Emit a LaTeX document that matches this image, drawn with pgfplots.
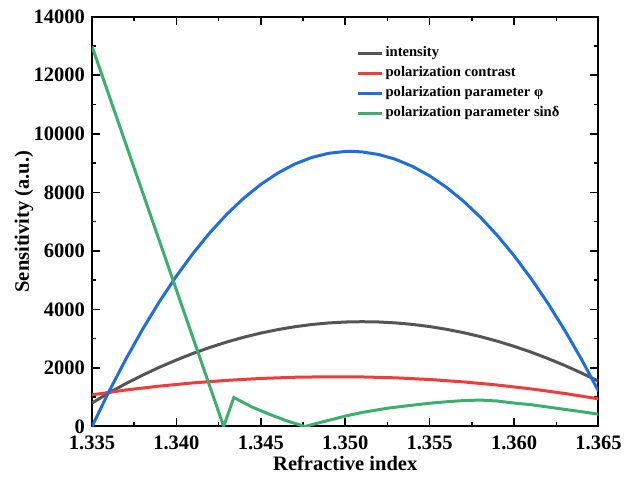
\documentclass[border=0pt]{standalone}
\usepackage{pgfplots}
\pgfplotsset{compat=1.18}
\usepackage{fontspec}
\setmainfont{Liberation Serif}
\definecolor{cgray}{RGB}{85,85,85}
\definecolor{cred}{RGB}{240,60,60}
\definecolor{cblue}{RGB}{30,110,225}
\definecolor{cgreen}{RGB}{60,175,110}
\begin{document}
\begin{tikzpicture}
\useasboundingbox (-92pt,-54.5pt) rectangle (533pt,426.5pt);
\begin{axis}[
  at={(0pt,0pt)}, anchor=south west,
  scale only axis, width=506.5pt, height=409.8pt,
  xmin=1.335, xmax=1.365, ymin=0, ymax=14000,
  scaled x ticks=false, scaled y ticks=false,
  xtick={1.335,1.34,1.345,1.35,1.355,1.36,1.365},
  xticklabels={1.335,1.340,1.345,1.350,1.355,1.360,1.365},
  minor x tick num=1,
  ytick={0,2000,4000,6000,8000,10000,12000,14000},
  yticklabels={0,2000,4000,6000,8000,10000,12000,14000},
  minor y tick num=1,
  tick align=inside,
  major tick length=8pt, minor tick length=4.5pt,
  every tick/.style={black, line width=1.5pt},
  axis line style={line width=2pt},
  ticklabel style={font=\fontsize{20.5}{20.5}\selectfont\bfseries},
  xticklabel style={yshift=-5.8pt},
  yticklabel style={xshift=-3.5pt},
  label style={font=\fontsize{20.5}{20.5}\selectfont\bfseries},
  xlabel={Refractive index},
  ylabel={Sensitivity (a.u.)},
  xlabel style={at={([yshift=-44.5pt]axis description cs:0.5,0)}, anchor=base},
  ylabel style={at={([xshift=-63pt]axis description cs:0,0.5)}, anchor=base},
  legend cell align=left,
  legend style={draw=none, fill=none, inner sep=0pt,
    at={(axis description cs:0.522,0.932)}, anchor=north west,
    font=\fontsize{14.6}{14.6}\selectfont\bfseries,
    row sep=2.5pt,
    nodes={inner sep=1.5pt, text height=10.5pt, text depth=4pt}},
  legend image code/.code={\draw[#1, line width=3.5pt] (0pt,0pt) -- (24pt,0pt);},
]
\addplot[cgray, line width=3pt] coordinates {
(1.335,800) (1.336,1150) (1.337,1463) (1.338,1755) (1.339,2025) (1.340,2273)
(1.341,2500) (1.342,2705) (1.343,2889) (1.344,3051) (1.345,3191) (1.346,3310)
(1.347,3407) (1.348,3483) (1.349,3537) (1.350,3569) (1.351,3580) (1.352,3570)
(1.353,3538) (1.354,3487) (1.355,3414) (1.356,3320) (1.357,3206) (1.358,3071)
(1.359,2916) (1.360,2739) (1.361,2542) (1.362,2324) (1.363,2085) (1.364,1826)
(1.365,1546)};
\addlegendentry{intensity}
\addplot[cred, line width=3pt] coordinates {
(1.335,1080) (1.337,1247) (1.339,1380) (1.341,1490) (1.343,1577) (1.345,1641)
(1.347,1682) (1.349,1699) (1.351,1693) (1.353,1662) (1.355,1605) (1.357,1523)
(1.359,1417) (1.361,1285) (1.363,1128) (1.365,945)};
\addlegendentry{polarization contrast}
\addplot[cblue, line width=3pt] coordinates {
(1.335,0) (1.336,1188) (1.337,2296) (1.338,3324) (1.339,4272) (1.340,5139)
(1.341,5927) (1.342,6633) (1.343,7260) (1.344,7806) (1.345,8272) (1.346,8657)
(1.347,8963) (1.348,9188) (1.349,9332) (1.350,9396) (1.3503,9400) (1.351,9381)
(1.352,9290) (1.353,9124) (1.354,8881) (1.355,8563) (1.356,8169) (1.357,7699)
(1.358,7153) (1.359,6531) (1.360,5834) (1.361,5061) (1.362,4212) (1.363,3287)
(1.364,2287) (1.365,1210)};
\addlegendentry{polarization parameter φ}
\addplot[cgreen, line width=3pt] coordinates {
(1.335,12990) (1.3428,0) (1.3434,990) (1.3445,660) (1.3455,420) (1.3465,200)
(1.3476,0) (1.3485,133) (1.3490,207) (1.3500,355) (1.3510,480) (1.3525,625)
(1.3540,730) (1.3550,795) (1.3560,845) (1.3570,885) (1.3580,903) (1.3590,870)
(1.3600,800) (1.3610,745) (1.3625,625) (1.3640,505) (1.3650,420)};
\addlegendentry{polarization parameter sinδ}
\end{axis}
\end{tikzpicture}
\end{document}
